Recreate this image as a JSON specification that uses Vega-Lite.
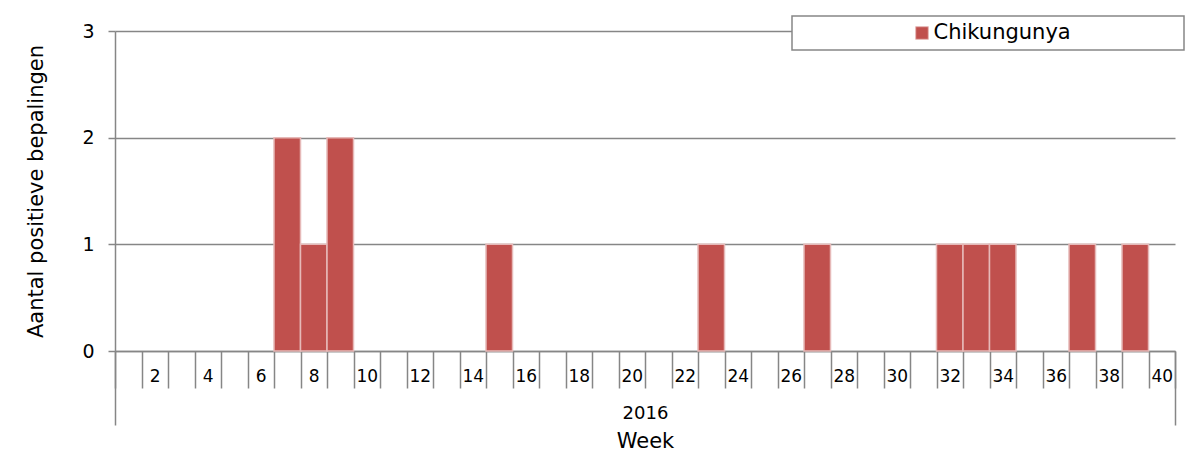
{
  "$schema": "https://vega.github.io/schema/vega-lite/v6.json",
  "width": 1060,
  "height": 320,
  "autosize": "none",
  "padding": {"left": 115, "top": 31, "right": 19, "bottom": 106},
  "background": "white",
  "config": {
    "font": "DejaVu Sans",
    "view": {"stroke": null},
    "legend": {"strokeWidth": 1.5},
    "axis": {"labelColor": "black", "titleColor": "black", "titleFontWeight": "normal", "domainColor": "#868686", "tickColor": "#868686", "gridColor": "#868686"}
  },
  "layer": [
    {
      "data": {"values": [
        {"week": 7, "count": 2, "series": "Chikungunya"},
        {"week": 8, "count": 1, "series": "Chikungunya"},
        {"week": 9, "count": 2, "series": "Chikungunya"},
        {"week": 15, "count": 1, "series": "Chikungunya"},
        {"week": 23, "count": 1, "series": "Chikungunya"},
        {"week": 27, "count": 1, "series": "Chikungunya"},
        {"week": 32, "count": 1, "series": "Chikungunya"},
        {"week": 33, "count": 1, "series": "Chikungunya"},
        {"week": 34, "count": 1, "series": "Chikungunya"},
        {"week": 37, "count": 1, "series": "Chikungunya"},
        {"week": 39, "count": 1, "series": "Chikungunya"}
      ]},
      "mark": {"type": "bar", "stroke": "#E6B9B8", "strokeWidth": 1.5},
      "encoding": {
        "x": {
          "field": "week", "type": "ordinal",
          "scale": {"domain": [1,2,3,4,5,6,7,8,9,10,11,12,13,14,15,16,17,18,19,20,21,22,23,24,25,26,27,28,29,30,31,32,33,34,35,36,37,38,39,40], "paddingInner": 0, "paddingOuter": 0},
          "axis": {
            "orient": "bottom", "title": null, "labelAngle": 0,
            "labelExpr": "datum.value % 2 == 0 ? datum.label : ''",
            "tickBand": "extent", "tickSize": 37, "tickWidth": 1.5, "domainWidth": 1.5,
            "labelFontSize": 17, "labelBaseline": "middle", "labelPadding": -11.5
          }
        },
        "y": {
          "field": "count", "type": "quantitative",
          "scale": {"domain": [0, 3], "nice": false},
          "axis": {
            "title": "Aantal positieve bepalingen", "values": [0, 1, 2, 3], "format": "d",
            "grid": true, "gridWidth": 1.5, "domainWidth": 1.5, "tickWidth": 1.5, "tickSize": 7,
            "labelFontSize": 19, "labelPadding": 14,
            "titleFontSize": 21, "titleX": -79, "titleBaseline": "middle"
          }
        },
        "color": {
          "field": "series", "type": "nominal",
          "scale": {"range": ["#C0504D"]},
          "legend": {
            "title": null, "orient": "none", "legendX": 677, "legendY": -15,
            "direction": "horizontal",
            "strokeColor": "#868686", "fillColor": "white", "padding": 6.5,
            "symbolType": "square", "symbolSize": 160, "symbolStrokeColor": "#E6B9B8", "symbolStrokeWidth": 1,
            "symbolOffset": 113, "labelOffset": 1,
            "labelFontSize": 21, "labelColor": "black", "labelLimit": 0,
            "labelExpr": "datum.label + '\u00a0\u00a0\u00a0\u00a0\u00a0\u00a0\u00a0\u00a0\u00a0\u00a0\u00a0\u00a0\u00a0\u00a0\u00a0\u00a0\u200b'"
          }
        }
      }
    },
    {
      "data": {"values": [{"year": "2016"}]},
      "mark": {"type": "rule", "strokeOpacity": 0},
      "encoding": {
        "x": {
          "field": "year", "type": "ordinal",
          "scale": {"paddingInner": 0, "paddingOuter": 0},
          "axis": {
            "orient": "bottom", "title": "Week", "labelAngle": 0,
            "domain": false, "tickBand": "extent", "tickSize": 74, "tickWidth": 1.5,
            "labelFontSize": 18, "labelBaseline": "middle", "labelPadding": -12,
            "titleFontSize": 21, "titleY": 90.5, "titleBaseline": "middle"
          }
        }
      }
    }
  ],
  "resolve": {"scale": {"x": "independent"}, "axis": {"x": "independent"}}
}
